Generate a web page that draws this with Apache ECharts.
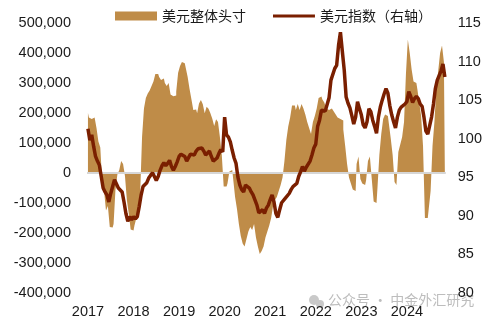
<!DOCTYPE html>
<html>
<head>
<meta charset="utf-8">
<script src="https://cdn.jsdelivr.net/npm/echarts@6/dist/echarts.min.js"></script>
<style>
  html, body { margin: 0; padding: 0; background: #ffffff; }
  #chart { width: 485px; height: 322px; }
</style>
</head>
<body>
<div id="chart"></div>
<script>
// USD aggregate net position (contracts), half-monthly from March 2017
const netPosition = [
  200000, 185000, 180000, 185000, 183000, 150000, 105000, 85000, -30000, -60000,
  -125000, -110000, -180000, -182000, -170000, -55000, -5000, 10000, 40000, 30000,
  -10000, -90000, -135000, -188000, -192000, -175000, -150000, -115000, -70000, 120000,
  215000, 250000, 265000, 275000, 290000, 305000, 330000, 330000, 320000, 310000,
  315000, 300000, 290000, 300000, 262000, 256000, 258000, 272000,
  334000, 357000, 370000, 366000, 351000, 321000, 281000, 246000, 210000, 212000,
  199000, 232000, 243000, 229000, 199000, 221000, 214000, 199000, 181000, 157000,
  179000, 170000, 120000, 60000, -45000, -45000, -35000, 5000, 10000, -20000,
  -80000, -120000, -170000, -210000, -235000, -245000, -220000, -195000, -180000, -190000,
  -170000, -215000, -245000, -270000, -260000, -245000, -215000, -195000,
  -175000, -150000, -110000, -90000, -80000, -60000, -40000, -15000, 40000, 110000,
  155000, 185000, 225000, 225000, 210000, 230000, 210000, 230000, 215000, 195000,
  170000, 150000, 130000, 170000, 190000, 215000, 250000, 255000, 245000, 235000,
  215000, 210000, 215000, 215000, 205000, 195000, 185000, 180000, 175000, 145000,
  90000, 30000, -15000, -35000, -55000, -60000, 30000,
  55000, -20000, -35000, -40000, -25000, 40000, 55000, -20000, -95000, -100000,
  -50000, 60000, 130000, 180000, 195000, 190000, 165000, 115000, 60000, -30000,
  -40000, 70000, 95000, 120000, 170000, 330000, 445000, 400000, 345000, 305000,
  300000, 280000, 235000, 190000, 90000, -150000, -150000, -120000, -60000, 90000,
  170000, 280000, 340000, 400000, 425000, 370000
];

// US dollar index, same periods (right axis)
const dollarIndex = [
  101.3, 99.8, 100.5, 99.0, 97.7, 97.1, 96.6, 95.1, 93.6, 93.1,
  92.7, 91.8, 92.9, 93.8, 94.7, 94.6, 93.6, 93.8, 93.1, 91.8,
  90.3, 89.3, 89.9, 89.5, 89.9, 89.6, 89.9, 91.2, 92.7, 93.8,
  94.0, 94.3, 94.9, 94.9, 95.6, 95.1, 94.6, 95.1, 95.9, 96.5,
  96.9, 96.5, 96.8, 97.2, 96.4, 95.9, 96.4, 97.0,
  97.7, 98.0, 97.9, 97.7, 97.1, 97.3, 98.0, 97.9, 97.9, 98.4,
  98.7, 98.9, 98.8, 98.4, 97.9, 98.0, 98.4, 97.7, 97.1, 97.1,
  97.5, 98.1, 98.6, 98.3, 102.8, 100.5, 100.2, 99.6, 98.5, 97.5,
  96.8, 95.0, 94.0, 93.4, 93.1, 94.0, 94.2, 93.6, 93.1, 92.7,
  92.5, 91.4, 90.4, 90.5, 90.8,
  90.3, 91.0, 91.4, 92.1, 92.7, 91.8, 90.3, 89.8, 90.8, 91.7,
  91.7, 92.3, 92.1, 92.9, 93.4, 93.8, 93.9, 94.2, 95.1, 95.7,
  96.4, 95.8, 96.3, 96.3, 97.1, 97.9, 98.8, 99.3, 101.6, 102.4,
  103.7, 103.9, 103.6, 103.5, 105.3, 107.6, 107.4, 109.1, 109.5, 112.1,
  113.8, 111.3, 108.9, 105.4, 104.6, 104.0, 103.0,
  101.9, 102.8, 104.8, 103.9, 103.1, 101.8, 101.4, 102.2, 103.9, 103.5,
  102.4, 101.6, 100.7, 102.8, 104.1, 105.0, 105.8, 106.5, 105.9, 104.3,
  103.1, 102.2, 101.4, 102.8, 103.7, 104.1, 104.3, 104.5, 104.8, 106.1,
  105.5, 104.7, 105.2, 105.5, 105.2, 104.5, 104.2, 102.8, 101.0, 100.6,
  100.5, 102.8, 104.5, 106.5, 107.6, 107.5, 108.8, 109.7, 108.0
];

// half-month period keys, first one is 2017-03-01
const periods = [];
for (let i = 0; i < netPosition.length; i++) {
  const m = 2 + Math.floor(i / 2);
  const y = 2017 + Math.floor(m / 12);
  const mm = String((m % 12) + 1).padStart(2, '0');
  periods.push(y + '-' + mm + (i % 2 ? '-16' : '-01'));
}

const seriesNames = ['美元整体头寸', '美元指数（右轴）'];
const watermark = '公众号 · 中金外汇研究';

const numFont = 'Liberation Sans, Arial, sans-serif';
const cjkFont = 'Noto Sans CJK SC, sans-serif';
const barColor = '#BF8C48';
const lineColor = '#7A1F00';
const clear = 'rgba(0,0,0,0)';
// left-axis grid lines: only the one at 0 (fifth tick from -400,000) is shown
const leftSplitColors = [clear, clear, clear, clear, '#D6D6D6', clear, clear, clear, clear, clear];

// thin horizontal stroke inside a 42x9 box, used as the line legend icon
const lineIcon = 'path://M0,0h0.5v0.01h-0.5z M0,9h0.5v0.01h-0.5z M0,3h42v3h-42z';

const chart = echarts.init(document.getElementById('chart'), null, { renderer: 'canvas' });
chart.setOption({
  animation: false,
  backgroundColor: '#ffffff',
  grid: { left: 87, right: 39, top: 23, bottom: 29 },
  legend: {
    left: 110,
    top: 4,
    itemWidth: 42,
    itemHeight: 9,
    itemGap: 27,
    textStyle: { fontFamily: cjkFont, fontSize: 14, color: '#1a1a1a' },
    data: [
      { name: seriesNames[0], icon: 'rect' },
      { name: seriesNames[1], icon: lineIcon }
    ]
  },
  xAxis: {
    type: 'category',
    data: periods,
    boundaryGap: true,
    axisLine: { show: false },
    axisTick: { show: false },
    splitLine: { show: false },
    axisLabel: {
      interval: function (idx) { return idx % 24 === 0; },
      formatter: function (v) { return v.slice(0, 4); },
      margin: 11,
      fontFamily: numFont,
      fontSize: 14.5,
      color: '#1a1a1a'
    }
  },
  yAxis: [
    {
      type: 'value',
      min: -400000,
      max: 500000,
      interval: 100000,
      z: 3,
      axisLine: { show: false },
      axisTick: { show: false },
      splitLine: { show: true, lineStyle: { color: leftSplitColors, width: 2, type: 'solid' } },
      axisLabel: {
        margin: 16,
        fontFamily: numFont,
        fontSize: 14.5,
        color: '#1a1a1a',
        formatter: function (v) { return v.toLocaleString('en-US'); }
      }
    },
    {
      type: 'value',
      position: 'right',
      min: 80,
      max: 115,
      interval: 5,
      axisLine: { show: false },
      axisTick: { show: false },
      splitLine: { show: false },
      axisLabel: { margin: 12, fontFamily: numFont, fontSize: 14.5, color: '#1a1a1a' }
    }
  ],
  series: [
    {
      // dense half-monthly columns, drawn as one stepped fill so neighbours join without seams
      name: seriesNames[0],
      type: 'line',
      step: 'middle',
      data: netPosition,
      symbol: 'none',
      lineStyle: { width: 0 },
      itemStyle: { color: barColor },
      areaStyle: { color: barColor, opacity: 1, origin: 0 },
      z: 2
    },
    {
      name: seriesNames[1],
      type: 'line',
      yAxisIndex: 1,
      data: dollarIndex,
      symbol: 'none',
      lineStyle: { color: lineColor, width: 3.5 },
      itemStyle: { color: lineColor },
      z: 5
    }
  ],
  graphic: [
    { type: 'circle', shape: { cx: 314, cy: 300, r: 5 }, style: { fill: '#C9C9C9' }, z: -1 },
    { type: 'circle', shape: { cx: 320, cy: 304, r: 4 }, style: { fill: '#C9C9C9' }, z: -1 },
    {
      type: 'text', left: 328, top: 293, z: -1,
      style: { text: watermark, fontFamily: cjkFont, fontSize: 14, fill: '#BDBDBD' }
    }
  ]
});
</script>
</body>
</html>
